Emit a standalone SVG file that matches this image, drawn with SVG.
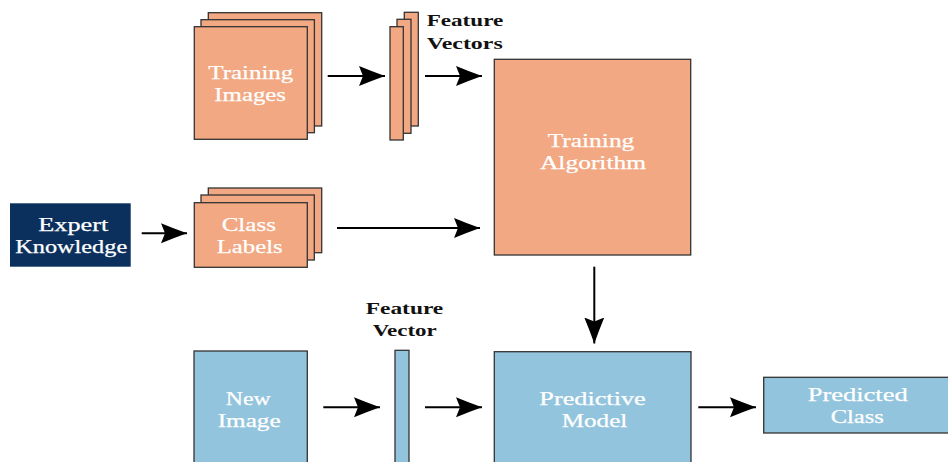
<svg xmlns="http://www.w3.org/2000/svg" width="948" height="462" viewBox="0 0 948 462">
  <defs>
    <marker id="head" markerUnits="userSpaceOnUse" markerWidth="28" markerHeight="24" refX="26" refY="12" orient="auto">
      <path d="M26,12 Q12,7 0,2 L4,12 L0,22 Q12,17 26,12 Z" fill="#000"/>
    </marker>
    <style>
      .train { fill: #f2a882; stroke: #333; stroke-width: 1.3; }
      .pred { fill: #93c4dd; stroke: #333; stroke-width: 1.3; }
      .expert { fill: #0b305d; }
      .lbl { font-family: "Liberation Serif", "DejaVu Serif", serif; font-size: 19px; fill: #fff; stroke: #fff; stroke-width: 0.25; text-anchor: middle; }
      .cap { font-family: "Liberation Serif", "DejaVu Serif", serif; font-size: 17px; font-weight: bold; fill: #111; text-anchor: middle; }
      .arrow { stroke: #000; stroke-width: 2; fill: none; marker-end: url(#head); }
    </style>
  </defs>
  <rect width="948" height="462" fill="#fff"/>

  <!-- training images (stack of three sheets) -->
  <g id="training-images">
    <rect class="train" x="208.3" y="12.7" width="113.4" height="113.3"/>
    <rect class="train" x="201" y="19.7" width="113.4" height="113"/>
    <rect class="train" x="194.3" y="26.7" width="113" height="112.6"/>
    <text class="lbl" x="250.8" y="79" textLength="85" lengthAdjust="spacingAndGlyphs">Training</text>
    <text class="lbl" x="250.2" y="101" textLength="71.7" lengthAdjust="spacingAndGlyphs">Images</text>
  </g>

  <!-- feature vectors (stack of three bars) -->
  <g id="feature-vectors">
    <rect class="train" x="404.3" y="12.3" width="14" height="113.7"/>
    <rect class="train" x="397" y="19.3" width="14" height="114"/>
    <rect class="train" x="390" y="26.7" width="13.3" height="113.3"/>
    <text class="cap" x="465" y="26" textLength="76.6" lengthAdjust="spacingAndGlyphs">Feature</text>
    <text class="cap" x="464.7" y="49.3" textLength="76" lengthAdjust="spacingAndGlyphs">Vectors</text>
  </g>

  <!-- training algorithm -->
  <g id="training-algorithm">
    <rect class="train" x="494.3" y="59.3" width="196.4" height="195.7"/>
    <text class="lbl" x="591" y="147.3" textLength="86.7" lengthAdjust="spacingAndGlyphs">Training</text>
    <text class="lbl" x="593" y="169.3" textLength="106" lengthAdjust="spacingAndGlyphs">Algorithm</text>
  </g>

  <!-- expert knowledge -->
  <g id="expert-knowledge">
    <rect class="expert" x="10" y="203.3" width="120.7" height="63.4"/>
    <text class="lbl" x="73.3" y="230.7" textLength="70" lengthAdjust="spacingAndGlyphs">Expert</text>
    <text class="lbl" x="71.2" y="252.7" textLength="112" lengthAdjust="spacingAndGlyphs">Knowledge</text>
  </g>

  <!-- class labels (stack of three sheets) -->
  <g id="class-labels">
    <rect class="train" x="208.3" y="188" width="113.4" height="64.7"/>
    <rect class="train" x="201" y="195" width="113.3" height="65"/>
    <rect class="train" x="194.3" y="202.7" width="113" height="64.6"/>
    <text class="lbl" x="248.8" y="231" textLength="54.3" lengthAdjust="spacingAndGlyphs">Class</text>
    <text class="lbl" x="249.7" y="252.7" textLength="66" lengthAdjust="spacingAndGlyphs">Labels</text>
  </g>

  <!-- new image -->
  <g id="new-image">
    <rect class="pred" x="194" y="351" width="113.3" height="120"/>
    <text class="lbl" x="248.2" y="405" textLength="45" lengthAdjust="spacingAndGlyphs">New</text>
    <text class="lbl" x="249.2" y="426.7" textLength="63" lengthAdjust="spacingAndGlyphs">Image</text>
  </g>

  <!-- feature vector (single bar) -->
  <g id="feature-vector">
    <rect class="pred" x="395" y="350.3" width="14" height="120"/>
    <text class="cap" x="404.5" y="314" textLength="77.6" lengthAdjust="spacingAndGlyphs">Feature</text>
    <text class="cap" x="404.7" y="335.7" textLength="64" lengthAdjust="spacingAndGlyphs">Vector</text>
  </g>

  <!-- predictive model -->
  <g id="predictive-model">
    <rect class="pred" x="494.3" y="351.7" width="196.7" height="120"/>
    <text class="lbl" x="592.5" y="405" textLength="106.4" lengthAdjust="spacingAndGlyphs">Predictive</text>
    <text class="lbl" x="594.5" y="427.3" textLength="65.6" lengthAdjust="spacingAndGlyphs">Model</text>
  </g>

  <!-- predicted class -->
  <g id="predicted-class">
    <rect class="pred" x="763.7" y="377.3" width="190" height="55.7"/>
    <text class="lbl" x="857.7" y="401" textLength="100" lengthAdjust="spacingAndGlyphs">Predicted</text>
    <text class="lbl" x="857.3" y="422.7" textLength="53.3" lengthAdjust="spacingAndGlyphs">Class</text>
  </g>

  <!-- connectors -->
  <g id="connectors">
    <line class="arrow" x1="327.7" y1="76" x2="385" y2="76"/>
    <line class="arrow" x1="425" y1="76" x2="482" y2="76"/>
    <line class="arrow" x1="141.7" y1="233.3" x2="187" y2="233.3"/>
    <line class="arrow" x1="337" y1="228" x2="480" y2="228"/>
    <line class="arrow" x1="594.3" y1="266.7" x2="594.3" y2="343.5"/>
    <line class="arrow" x1="323.3" y1="407.3" x2="380" y2="407.3"/>
    <line class="arrow" x1="425" y1="407.3" x2="482" y2="407.3"/>
    <line class="arrow" x1="698.3" y1="407.3" x2="756" y2="407.3"/>
  </g>
</svg>
